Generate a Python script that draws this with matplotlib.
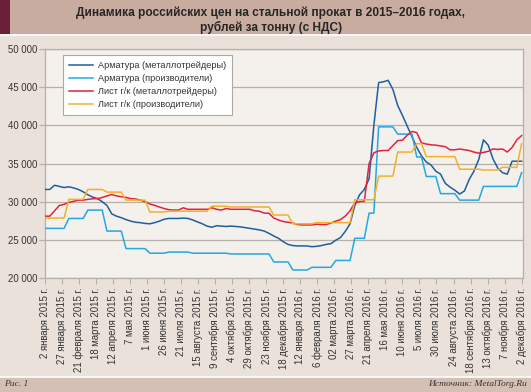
import matplotlib
matplotlib.use("Agg")
import matplotlib.pyplot as plt
import pandas as pd
from matplotlib.patches import Rectangle
from matplotlib.lines import Line2D

plt.rcParams['font.family'] = ['Liberation Sans', 'DejaVu Sans']

# ---------------- data (weekly, starting 2 Jan 2015) ----------------
start_date = "2015-01-02"
n_weeks = 101

rebar_traders = [
    31600, 31600, 32150, 32000, 31850, 31950, 31800, 31600, 31300, 30900,
    30600, 30400, 30000, 29500, 28400, 28100, 27900, 27650, 27450, 27300,
    27250, 27150, 27100, 27250, 27450, 27700, 27800, 27800, 27800, 27850,
    27800, 27600, 27350, 27100, 26800, 26650, 26850, 26800, 26750, 26800,
    26750, 26700, 26600, 26500, 26400, 26300, 26150, 25850, 25500, 25200,
    24750, 24400, 24250, 24200, 24200, 24200, 24100, 24150, 24250, 24400,
    24500, 24950, 25300, 26100, 27100, 29500, 30900, 31600, 33000, 40000,
    45600, 45700, 45900, 44700, 42600, 41300, 39900, 38500, 37100, 36000,
    35200, 34800, 34000, 33600, 32400, 31900, 31500, 31000, 31400, 32900,
    34000, 35500, 38100, 37400, 35600, 34400, 33800, 33600, 35300, 35300,
    35300,
]

rebar_producers = (
    [26500] * 5 + [27800] * 4 + [28900] * 4 + [26150] * 4 + [23850] * 5 +
    [23250] * 4 + [23400] * 5 + [23250] * 8 + [23150] * 9 + [22100] * 4 +
    [21050] * 4 + [21400] * 5 + [22300] * 4 + [25200] * 3 + [28500] * 2 +
    [39800] * 4 + [38850] * 4 + [35850] * 2 + [33300] * 3 + [31050] * 4 +
    [30200] * 5 + [32000] * 8 + [33800] * 1
)

sheet_traders = [
    28100, 28100, 28800, 29500, 29650, 29900, 30050, 30200, 30200, 30300,
    30380, 30400, 30550, 30750, 30940, 30750, 30650, 30550, 30400, 30350,
    30200, 30000, 29700, 29520, 29300, 29100, 28950, 28900, 28900, 29200,
    29000, 29000, 29000, 29000, 29000, 29200, 29000, 28900, 29100, 29000,
    29000, 29000, 29000, 29000, 28800, 28750, 28500, 28480, 27850, 27600,
    27400, 27300, 27200, 27000, 26950, 26950, 26950, 27050, 27000, 27000,
    27200, 27450, 27650, 28100, 28800, 29850, 30000, 30050, 35000, 36400,
    36650, 36700, 36700, 37350, 38000, 38050, 38700, 39200, 39050, 37700,
    37550, 37450, 37400, 37300, 37200, 36800, 36800, 36900, 36800, 36700,
    36500, 36350, 36450, 36600, 36900, 36850, 36900, 36500, 37100, 38100,
    38650,
]

sheet_producers = (
    [27850] * 5 + [30300] * 4 + [31600] * 4 + [31250] * 4 + [30200] * 5 +
    [28650] * 4 + [28750] * 9 + [29400] * 4 + [29300] * 9 + [28250] * 4 +
    [27100] * 5 + [27250] * 8 + [30250] * 5 + [33350] * 4 + [36500] * 4 +
    [37600] * 2 + [35900] * 7 + [34250] * 5 + [34150] * 4 + [34500] * 4 +
    [37600] * 1
)

series_labels = [
    "Арматура (металлотрейдеры)",
    "Арматура (производители)",
    "Лист г/к (металлотрейдеры)",
    "Лист г/к (производители)",
]

tick_start = "2015-01-02"
tick_step_days = 25
tick_labels = [
    "2 января 2015 г.", "27 января 2015 г.", "21 февраля 2015 г.",
    "18 марта 2015 г.", "12 апреля 2015 г.", "7 мая 2015 г.",
    "1 июня 2015 г.", "26 июня 2015 г.", "21 июля 2015 г.",
    "15 августа 2015 г.", "9 сентября 2015 г.", "4 октября 2015 г.",
    "29 октября 2015 г.", "23 ноября 2015 г.", "18 декабря 2015 г.",
    "12 января 2016 г.", "6 февраля 2016 г.", "02 марта 2016 г.",
    "27 марта 2016 г.", "21 апреля 2016 г.", "16 мая 2016 г.",
    "10 июня 2016 г.", "5 июля 2016 г.", "30 июля 2016 г.",
    "24 августа 2016 г.", "18 сентября 2016 г.", "13 октября 2016 г.",
    "7 ноября 2016 г.", "2 декабря 2016 г.",
]
y_ticks = [20000, 25000, 30000, 35000, 40000, 45000, 50000]

title_text = "Динамика российских цен на стальной прокат в 2015–2016 годах,\nрублей за тонну (с НДС)"
fig_label = "Рис. 1"
source_text = "Источник: MetalTorg.Ru"

# ---------------- styling ----------------
colors = ["#1f5f9c", "#22a9e1", "#e2233c", "#f4b02a"]
band_color = "#c8ac9f"
maroon = "#6b1f36"
chart_bg = "#eae1db"
plot_bg = "#f4f0ec"
foot_color = "#d5c0b6"
grid_color = "#b7afaa"

W, H = 531, 392
fig = plt.figure(figsize=(W / 100, H / 100), dpi=100)
fig.patch.set_facecolor(chart_bg)

# header band
fig.patches.append(Rectangle((0, 1 - 34 / H), 1, 34 / H, transform=fig.transFigure,
                             facecolor=band_color, edgecolor="none", zorder=0))
fig.patches.append(Rectangle((0, 1 - 34 / H), 10 / W, 34 / H, transform=fig.transFigure,
                             facecolor=maroon, edgecolor="none", zorder=1))
fig.lines.append(Line2D([0, 1], [1 - 35 / H, 1 - 35 / H], transform=fig.transFigure,
                        color="white", linewidth=1.2))
# footer band
fig.patches.append(Rectangle((0, 0), 1, 15 / H, transform=fig.transFigure,
                             facecolor=foot_color, edgecolor="none", zorder=0))
fig.lines.append(Line2D([0, 1], [15.5 / H, 15.5 / H], transform=fig.transFigure,
                        color="white", linewidth=1.2))

fig.text(0.51, 1 - 20 / H, title_text, ha="center", va="center", fontsize=8.6,
         fontweight="bold", color="#262626", linespacing=1.15)
fig.text(4 / W, 7.5 / H, fig_label, ha="left", va="center", fontsize=6.8,
         family="Liberation Serif", style="italic", color="#333333")
fig.text(527 / W, 7.5 / H, source_text, ha="right", va="center", fontsize=6.8,
         family="Liberation Serif", style="italic", color="#333333")

ax = fig.add_axes([45 / W, 1 - 278 / H, (523.3 - 45) / W, (278 - 49) / H])
ax.set_facecolor(plot_bg)

dates = pd.date_range(start_date, periods=n_weeks, freq="7D")
for vals, col, lab in zip([rebar_traders, rebar_producers, sheet_traders, sheet_producers],
                          colors, series_labels):
    ax.plot(dates, vals, color=col, linewidth=1.1, label=lab, zorder=3)

tick_dates = pd.date_range(tick_start, periods=len(tick_labels), freq=f"{tick_step_days}D")
ax.set_xticks(tick_dates)
ax.set_xticklabels(tick_labels, rotation=90, fontsize=6.9, color="#333333",
                   ha="center", va="top")
ax.set_xlim(dates[0], dates[-1] + pd.Timedelta(days=2.5))
ax.set_ylim(20000, 50000)
ax.set_yticks(y_ticks)
ax.set_yticklabels([f"{v:,}".replace(",", " ") for v in y_ticks], fontsize=6.9,
                   color="#333333")

ax.grid(axis="y", color=grid_color, linewidth=0.9, zorder=1)
ax.tick_params(axis="y", length=4, width=0.9, color=grid_color, pad=1.5)
ax.tick_params(axis="x", length=4, width=0.8, color=grid_color, pad=3)
for s in ax.spines.values():
    s.set_color(grid_color)
    s.set_linewidth(0.9)

leg = ax.legend(loc="upper left", bbox_to_anchor=((63 - 45) / 478.3, (278 - 55) / 229),
                borderaxespad=0, fontsize=6.6, frameon=True, fancybox=False,
                handlelength=2.6, handletextpad=0.55, labelspacing=0.45,
                borderpad=0.65)
leg.get_frame().set_facecolor("white")
leg.get_frame().set_edgecolor("#b0a8a3")
leg.get_frame().set_linewidth(0.8)
leg.get_frame().set_alpha(1)
for t in leg.get_texts():
    t.set_color("#333333")

fig.savefig("out.png", dpi=100, facecolor=fig.get_facecolor())
